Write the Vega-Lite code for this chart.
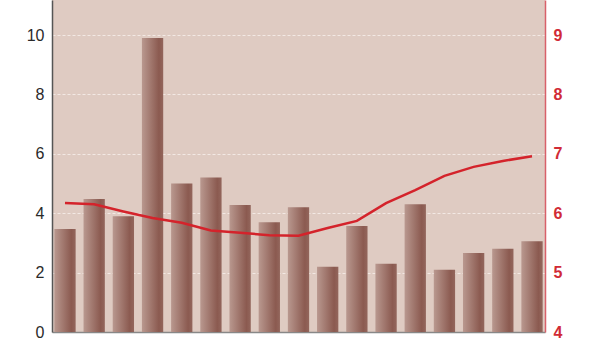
{
  "$schema": "https://vega.github.io/schema/vega-lite/v6.json",
  "width": 493,
  "height": 332,
  "autosize": {"type": "none"},
  "padding": {"left": 52, "top": 0, "right": 55, "bottom": 6},
  "background": "#ffffff",
  "config": {
    "view": {"fill": "#dfcbc2", "stroke": null},
    "font": "Liberation Sans"
  },
  "data": {
    "values": [
      {"i": 1, "bar": 3.47, "line": 6.17},
      {"i": 2, "bar": 4.48, "line": 6.15},
      {"i": 3, "bar": 3.9, "line": 6.03},
      {"i": 4, "bar": 9.9, "line": 5.92},
      {"i": 5, "bar": 5.0, "line": 5.84},
      {"i": 6, "bar": 5.2, "line": 5.71},
      {"i": 7, "bar": 4.28, "line": 5.67},
      {"i": 8, "bar": 3.7, "line": 5.63},
      {"i": 9, "bar": 4.2, "line": 5.62},
      {"i": 10, "bar": 2.2, "line": 5.75},
      {"i": 11, "bar": 3.57, "line": 5.87},
      {"i": 12, "bar": 2.3, "line": 6.17},
      {"i": 13, "bar": 4.3, "line": 6.39},
      {"i": 14, "bar": 2.1, "line": 6.63},
      {"i": 15, "bar": 2.66, "line": 6.78},
      {"i": 16, "bar": 2.8, "line": 6.88},
      {"i": 17, "bar": 3.06, "line": 6.96}
    ]
  },
  "encoding": {
    "x": {
      "field": "i",
      "type": "ordinal",
      "scale": {"paddingInner": 0.27, "paddingOuter": 0.08},
      "axis": {"labels": false, "ticks": false, "title": null, "domainColor": "#888888", "domainWidth": 1.5}
    }
  },
  "layer": [
    {
      "mark": {
        "type": "bar",
        "color": {
          "gradient": "linear",
          "x1": 0, "y1": 0, "x2": 1, "y2": 0,
          "stops": [
            {"offset": 0, "color": "#b9988f"},
            {"offset": 0.8, "color": "#8b5a50"},
            {"offset": 1, "color": "#93665c"}
          ]
        }
      },
      "encoding": {
        "y": {
          "field": "bar",
          "type": "quantitative",
          "scale": {"domain": [0, 11.18], "nice": false, "zero": true},
          "axis": {
            "orient": "left",
            "title": null,
            "values": [0, 2, 4, 6, 8, 10],
            "ticks": false,
            "labelPadding": 8,
            "labelFontSize": 16,
            "labelColor": "#2a2a2a",
            "domainColor": "#555555",
            "domainWidth": 1.5,
            "grid": true,
            "gridColor": "#f3e9e4",
            "gridDash": [3, 2],
            "gridWidth": 1
          }
        }
      }
    },
    {
      "mark": {"type": "line", "color": "#d4232b", "strokeWidth": 2.5},
      "encoding": {
        "y": {
          "field": "line",
          "type": "quantitative",
          "scale": {"domain": [4, 9.59], "nice": false, "zero": false},
          "axis": {
            "orient": "right",
            "title": null,
            "values": [4, 5, 6, 7, 8, 9],
            "ticks": false,
            "labelPadding": 8,
            "labelFontSize": 16,
            "labelFontWeight": "bold",
            "labelColor": "#d12b36",
            "domainColor": "#d8606a",
            "domainWidth": 1.5,
            "grid": false
          }
        }
      }
    }
  ],
  "resolve": {"scale": {"y": "independent"}}
}
